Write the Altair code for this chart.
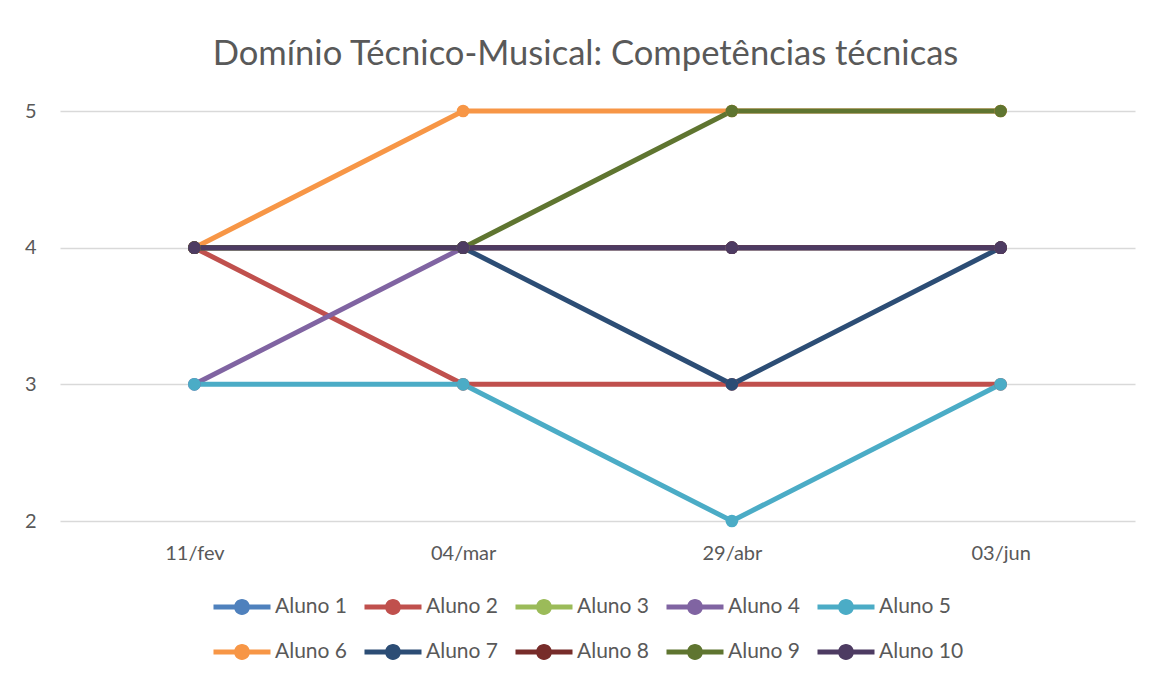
import altair as alt
import pandas as pd

dates = ["11/fev", "04/mar", "29/abr", "03/jun"]
alunos = ["Aluno 1", "Aluno 2", "Aluno 3", "Aluno 4", "Aluno 5",
          "Aluno 6", "Aluno 7", "Aluno 8", "Aluno 9", "Aluno 10"]
aluno_1 = [4, 4, 4, 4]
aluno_2 = [4, 3, 3, 3]
aluno_3 = [4, 4, 4, 4]
aluno_4 = [3, 4, 4, 4]
aluno_5 = [3, 3, 2, 3]
aluno_6 = [4, 5, 5, 5]
aluno_7 = [4, 4, 3, 4]
aluno_8 = [4, 4, 4, 4]
aluno_9 = [4, 4, 5, 5]
aluno_10 = [4, 4, 4, 4]
colors = ["#4F81BD", "#C0504D", "#9BBB59", "#8064A2", "#4BACC6",
          "#F79646", "#2C4D75", "#772C2A", "#5F7530", "#4D3B62"]

series = [aluno_1, aluno_2, aluno_3, aluno_4, aluno_5,
          aluno_6, aluno_7, aluno_8, aluno_9, aluno_10]
rows = []
for i, (name, vals) in enumerate(zip(alunos, series)):
    for j, (d, v) in enumerate(zip(dates, vals)):
        rows.append({"aluno": name, "data": d, "valor": v, "ordem": i})
df = pd.DataFrame(rows)

FONT = "Lato"
GREY = "#595959"

symbol_path = ("M-1,-0.09 L1,-0.09 L1,0.09 L-1,0.09 Z "
               "M0.28,0 A0.28,0.28 0 1,1 -0.28,0 A0.28,0.28 0 1,1 0.28,0 Z")

color = alt.Color(
    "aluno:N",
    scale=alt.Scale(domain=alunos, range=colors),
    legend=alt.Legend(
        title=None, orient="none", legendX=153, legendY=467,
        columns=5, direction="horizontal",
        symbolType=symbol_path, symbolSize=3250, symbolStrokeWidth=0,
        labelFont=FONT, labelFontSize=21, labelColor=GREY,
        labelOffset=4, columnPadding=16, rowPadding=6,
    ),
)

x = alt.X("data:N", sort=dates, scale=alt.Scale(paddingOuter=0.5),
          axis=alt.Axis(title=None, labelAngle=0, domain=False, ticks=False,
                        grid=False, labelFont=FONT, labelFontSize=20,
                        labelColor=GREY, labelPadding=22))
y = alt.Y("valor:Q", scale=alt.Scale(domain=[2, 5], nice=False, zero=False),
          axis=alt.Axis(title=None, values=[2, 3, 4, 5], domain=False, ticks=False,
                        grid=True, gridColor="#D9D9D9", gridWidth=1.3,
                        labelFont=FONT, labelFontSize=20, labelColor=GREY,
                        labelPadding=24, format="d"))

base = alt.Chart(df)
lines = base.mark_line(strokeWidth=5).encode(
    x=x, y=y, color=color, order=alt.Order("ordem:Q"))
points = base.mark_point(filled=True, size=160, opacity=1).encode(
    x=x, y=y, color=color, order=alt.Order("ordem:Q"))

chart = alt.layer(lines, points).properties(
    width=1075, height=410,
    title=alt.TitleParams("Domínio Técnico-Musical: Competências técnicas",
                          font=FONT, fontSize=34.6, fontWeight="normal",
                          color=GREY, anchor="middle", offset=28, dx=-12),
    padding={"left": 52, "top": 103, "right": 10, "bottom": 150},
    autosize=alt.AutoSizeParams(type="none"),
).configure(background="white").configure_view(stroke=None, strokeWidth=0)

chart.save("out.html", embed_options={"renderer": "svg", "actions": False})
